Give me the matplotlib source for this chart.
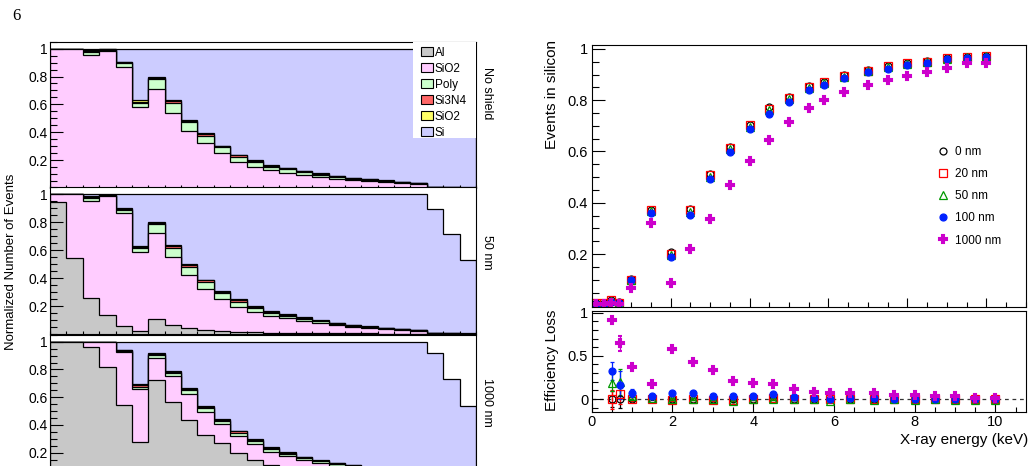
import numpy as np
import matplotlib.pyplot as plt
from matplotlib.patches import Patch, Rectangle
from matplotlib.ticker import MultipleLocator

plt.rcParams['font.family'] = ['Liberation Sans', 'DejaVu Sans']
plt.rcParams['axes.linewidth'] = 0.8

W, H = 1035, 466


def fx(px):
    return px / W


def fy(py):
    return 1 - py / H


# --------------------------------------------------------------------
# Left: fraction of events absorbed per layer, 26 energy bins
# --------------------------------------------------------------------
n_bins = 26
layer_names = ['Al', 'SiO2', 'Poly', 'Si3N4', 'SiO2', 'Si']
layer_colors = ['#c8c8c8', '#ffccff', '#ccffcc', '#ff6666', '#ffff66', '#ccccff']

# No shield
ns_al = [0.0] * 26
ns_sio2 = [1.000, 1.000, 0.953, 0.982, 0.870, 0.583, 0.714, 0.536, 0.411, 0.320, 0.249, 0.189, 0.153,
           0.128, 0.110, 0.092, 0.078, 0.066, 0.056, 0.048, 0.040, 0.034, 0.028, 0.006, 0.003, 0.002]
ns_poly = [0.000, 0.000, 0.024, 0.010, 0.024, 0.024, 0.066, 0.076, 0.060, 0.053, 0.042, 0.036, 0.032,
           0.025, 0.023, 0.020, 0.017, 0.014, 0.012, 0.010, 0.009, 0.008, 0.007, 0.002, 0.001, 0.001]
ns_si3n4 = [0.000, 0.000, 0.007, 0.003, 0.007, 0.012, 0.010, 0.011, 0.011, 0.011, 0.008, 0.009, 0.009,
            0.008, 0.008, 0.007, 0.006, 0.005, 0.004, 0.004, 0.003, 0.002, 0.002, 0.001, 0.001, 0.000]
ns_oxide = [0.000, 0.000, 0.005, 0.002, 0.004, 0.009, 0.007, 0.007, 0.008, 0.008, 0.005, 0.006, 0.006,
            0.006, 0.005, 0.005, 0.004, 0.004, 0.003, 0.002, 0.002, 0.002, 0.001, 0.001, 0.000, 0.001]
ns_si = [0.000, 0.000, 0.011, 0.003, 0.095, 0.372, 0.203, 0.370, 0.510, 0.608, 0.696, 0.760, 0.800,
         0.833, 0.854, 0.876, 0.895, 0.911, 0.925, 0.936, 0.946, 0.954, 0.962, 0.890, 0.710, 0.525]

# 50 nm Al
t50_al = [0.945, 0.545, 0.255, 0.136, 0.060, 0.024, 0.105, 0.064, 0.045, 0.029, 0.021, 0.014, 0.012,
          0.010, 0.008, 0.007, 0.006, 0.005, 0.004, 0.004, 0.003, 0.003, 0.002, 0.001, 0.001, 0.001]
t50_sio2 = [0.055, 0.455, 0.697, 0.849, 0.809, 0.564, 0.619, 0.484, 0.375, 0.290, 0.229, 0.181, 0.146,
            0.120, 0.104, 0.088, 0.072, 0.057, 0.048, 0.039, 0.032, 0.027, 0.023, 0.005, 0.002, 0.001]
t50_poly = [0.000, 0.000, 0.024, 0.008, 0.021, 0.024, 0.066, 0.069, 0.060, 0.055, 0.045, 0.036, 0.030,
            0.022, 0.020, 0.015, 0.012, 0.010, 0.008, 0.007, 0.006, 0.005, 0.004, 0.002, 0.001, 0.001]
t50_si3n4 = [0.000, 0.000, 0.008, 0.002, 0.006, 0.011, 0.006, 0.011, 0.012, 0.010, 0.007, 0.010, 0.007,
             0.007, 0.005, 0.006, 0.004, 0.004, 0.003, 0.002, 0.002, 0.002, 0.002, 0.001, 0.001, 0.000]
t50_oxide = [0.000, 0.000, 0.006, 0.002, 0.004, 0.007, 0.004, 0.008, 0.008, 0.006, 0.005, 0.006, 0.005,
             0.004, 0.003, 0.004, 0.003, 0.002, 0.002, 0.002, 0.002, 0.001, 0.001, 0.001, 0.000, 0.001]
t50_si = [0.000, 0.000, 0.010, 0.003, 0.100, 0.370, 0.200, 0.364, 0.500, 0.610, 0.693, 0.753, 0.800,
          0.837, 0.860, 0.880, 0.903, 0.922, 0.935, 0.946, 0.955, 0.962, 0.968, 0.888, 0.714, 0.525]

# 1000 nm Al
t1k_al = [1.000, 1.000, 0.962, 0.815, 0.545, 0.280, 0.721, 0.569, 0.437, 0.328, 0.268, 0.200, 0.150,
          0.110, 0.085, 0.068, 0.055, 0.045, 0.037, 0.030, 0.025, 0.020, 0.017, 0.004, 0.002, 0.001]
t1k_sio2 = [0.000, 0.000, 0.038, 0.185, 0.378, 0.378, 0.161, 0.181, 0.188, 0.169, 0.140, 0.121, 0.112,
            0.098, 0.090, 0.080, 0.070, 0.063, 0.058, 0.050, 0.043, 0.038, 0.033, 0.008, 0.004, 0.003]
t1k_poly = [0.000, 0.000, 0.000, 0.000, 0.012, 0.019, 0.024, 0.028, 0.030, 0.029, 0.024, 0.024, 0.023,
            0.020, 0.018, 0.015, 0.014, 0.012, 0.011, 0.010, 0.008, 0.007, 0.006, 0.002, 0.001, 0.001]
t1k_si3n4 = [0.000, 0.000, 0.000, 0.000, 0.004, 0.010, 0.007, 0.007, 0.008, 0.007, 0.007, 0.009, 0.008,
             0.007, 0.006, 0.005, 0.005, 0.005, 0.004, 0.004, 0.003, 0.003, 0.002, 0.001, 0.001, 0.000]
t1k_oxide = [0.000, 0.000, 0.000, 0.000, 0.003, 0.007, 0.005, 0.005, 0.005, 0.005, 0.005, 0.006, 0.005,
             0.005, 0.004, 0.004, 0.003, 0.003, 0.003, 0.002, 0.002, 0.002, 0.002, 0.001, 0.000, 0.001]
t1k_si = [0.000, 0.000, 0.000, 0.000, 0.058, 0.306, 0.082, 0.210, 0.332, 0.462, 0.556, 0.640, 0.702,
          0.760, 0.797, 0.828, 0.853, 0.872, 0.887, 0.904, 0.919, 0.930, 0.940, 0.902, 0.722, 0.532]

panel_tags = ['No shield', '50 nm', '1000 nm']

# --------------------------------------------------------------------
# Right: events in silicon / efficiency loss vs energy
# --------------------------------------------------------------------
energy = [0.1, 0.3, 0.5, 0.7, 1.0, 1.5, 2.0, 2.5, 3.0, 3.5, 4.0, 4.5,
          5.0, 5.5, 5.9, 6.4, 7.0, 7.5, 8.0, 8.5, 9.0, 9.5, 10.0]
thick_labels = ['0 nm', '20 nm', '50 nm', '100 nm', '1000 nm']

eff_0 = [0.010, 0.008, 0.022, 0.012, 0.102, 0.372, 0.207, 0.375, 0.514, 0.617, 0.705, 0.772,
         0.813, 0.855, 0.872, 0.897, 0.917, 0.935, 0.945, 0.952, 0.964, 0.969, 0.973]
eff_20 = [0.010, 0.008, 0.021, 0.011, 0.101, 0.370, 0.200, 0.373, 0.510, 0.614, 0.702, 0.766,
          0.810, 0.852, 0.869, 0.894, 0.915, 0.933, 0.943, 0.950, 0.963, 0.969, 0.972]
eff_50 = [0.006, 0.005, 0.017, 0.009, 0.100, 0.368, 0.198, 0.366, 0.500, 0.608, 0.696, 0.760,
          0.805, 0.846, 0.865, 0.890, 0.913, 0.928, 0.940, 0.948, 0.961, 0.967, 0.971]
eff_100 = [0.006, 0.005, 0.014, 0.008, 0.099, 0.361, 0.187, 0.352, 0.491, 0.597, 0.686, 0.746,
           0.794, 0.839, 0.859, 0.885, 0.908, 0.923, 0.937, 0.946, 0.959, 0.965, 0.970]
eff_1000 = [0.004, 0.004, 0.008, 0.005, 0.068, 0.320, 0.086, 0.218, 0.336, 0.468, 0.562, 0.644,
            0.716, 0.768, 0.800, 0.833, 0.861, 0.878, 0.895, 0.911, 0.926, 0.943, 0.943]

# efficiency loss starts at 0.5 keV
loss_0 = [0.000, 0.000, 0.000, 0.000, 0.000, 0.000, 0.000, 0.000, 0.000, 0.000, 0.000,
          0.000, 0.000, 0.000, 0.000, 0.000, 0.000, 0.000, 0.000, 0.000, 0.000]
loss_20 = [0.000, 0.060, 0.000, 0.005, -0.010, 0.000, -0.010, -0.010, 0.000, 0.010, 0.000,
           0.000, 0.000, 0.000, 0.000, 0.000, -0.005, 0.000, 0.000, -0.005, 0.000]
loss_50 = [0.190, 0.200, 0.030, 0.010, 0.000, 0.000, 0.000, -0.025, 0.000, 0.000, 0.000,
           0.000, -0.020, -0.005, -0.010, -0.005, -0.010, -0.005, -0.010, -0.015, -0.010]
loss_100 = [0.324, 0.162, 0.066, 0.040, 0.066, 0.070, 0.040, 0.030, 0.040, 0.060, 0.020,
            0.012, 0.005, 0.015, 0.008, 0.005, 0.005, 0.005, 0.005, 0.002, 0.005]
loss_1000 = [0.915, 0.645, 0.375, 0.174, 0.576, 0.432, 0.336, 0.209, 0.190, 0.170, 0.112,
             0.085, 0.066, 0.073, 0.066, 0.046, 0.046, 0.035, 0.030, 0.015, 0.015]

err_0 = [0.09, 0.10, 0.02, 0.01, 0.01, 0.01, 0.01, 0.01, 0.01, 0.01, 0.01,
         0.01, 0.01, 0.01, 0.01, 0.01, 0.01, 0.01, 0.01, 0.01, 0.01]
err_20 = [0.11, 0.12, 0.02, 0.01, 0.01, 0.01, 0.01, 0.01, 0.01, 0.01, 0.01,
          0.01, 0.01, 0.01, 0.01, 0.01, 0.01, 0.01, 0.01, 0.01, 0.01]
err_50 = [0.10, 0.15, 0.03, 0.01, 0.01, 0.01, 0.01, 0.01, 0.01, 0.01, 0.01,
          0.01, 0.01, 0.01, 0.01, 0.01, 0.01, 0.01, 0.01, 0.01, 0.01]
err_100 = [0.10, 0.16, 0.045, 0.02, 0.02, 0.015, 0.015, 0.015, 0.015, 0.015, 0.01,
           0.01, 0.01, 0.01, 0.01, 0.01, 0.01, 0.01, 0.01, 0.01, 0.01]
err_1000 = [0.02, 0.09, 0.03, 0.02, 0.02, 0.02, 0.02, 0.02, 0.02, 0.02, 0.015,
            0.015, 0.015, 0.015, 0.015, 0.015, 0.015, 0.015, 0.015, 0.015, 0.015]

# marker, colour, filled, size, edge width
styles = [('o', 'black', False, 5.0, 0.9),
          ('s', '#ff0000', False, 5.6, 0.9),
          ('^', '#009900', False, 5.8, 0.9),
          ('o', '#0022ff', True, 5.0, 0.9),
          ('P', '#cc00cc', True, 6.2, 1.5)]

# --------------------------------------------------------------------
fig = plt.figure(figsize=(W / 100, H / 100), dpi=100)

left_x, left_w = fx(50), (476 - 50) / W
panel_px = [(41.7, 188.0), (187.3, 334.0), (334.8, 480.5)]  # top, bottom in pixels
panel_layers = [
    [ns_al, ns_sio2, ns_poly, ns_si3n4, ns_oxide, ns_si],
    [t50_al, t50_sio2, t50_poly, t50_si3n4, t50_oxide, t50_si],
    [t1k_al, t1k_sio2, t1k_poly, t1k_si3n4, t1k_oxide, t1k_si],
]
tag_y = [93, 252, 402]

edges = np.arange(n_bins + 1)
left_axes = []
for (top_px, bot_px), layers, tag, ty in zip(panel_px, panel_layers, panel_tags, tag_y):
    ax = fig.add_axes([left_x, fy(bot_px), left_w, (bot_px - top_px) / H])
    cum = np.zeros(n_bins)
    tops = []
    for vals in layers:
        cum = cum + np.array(vals)
        tops.append(cum.copy())
    # stacked like a THStack: draw the total first, then each partial sum on top
    for top, col in reversed(list(zip(tops, layer_colors))):
        ax.stairs(top, edges, baseline=0, fill=True, facecolor=col,
                  edgecolor='black', linewidth=0.9)
    ax.set_xlim(0, n_bins)
    ax.set_ylim(0, 1.05)
    ax.set_xticks(edges)
    ax.set_xticklabels([])
    ax.set_yticks([0.2, 0.4, 0.6, 0.8, 1.0])
    ax.set_yticklabels(['0.2', '0.4', '0.6', '0.8', '1'])
    ax.yaxis.set_minor_locator(MultipleLocator(0.05))
    ax.tick_params(which='both', direction='in', top=False, right=False)
    ax.tick_params(axis='y', which='major', length=9, width=0.8, pad=1.5, labelsize=10)
    ax.tick_params(axis='y', which='minor', length=5, width=0.8)
    ax.tick_params(axis='x', which='major', length=2.5, width=0.8)
    fig.text(fx(487), fy(ty), tag, rotation=-90, ha='center', va='center', fontsize=9)
    left_axes.append(ax)

# legend of the top panel on a white box
ax0 = left_axes[0]
ax0.add_patch(Rectangle((0.8514, 0.342), 0.1486, 0.658, transform=ax0.transAxes,
                        facecolor='white', edgecolor='none', zorder=4))
handles = [Patch(facecolor=c, edgecolor='black', linewidth=0.8) for c in layer_colors]
ax0.legend(handles, layer_names, loc='upper left', bbox_to_anchor=(fx(421), fy(46.5)),
           bbox_transform=fig.transFigure, frameon=False, fontsize=8.5,
           handlelength=1.0, handleheight=0.8, handletextpad=0.15,
           labelspacing=0.34, borderpad=0, borderaxespad=0)

fig.text(fx(11), fy(262), 'Normalized Number of Events', rotation=90,
         ha='center', va='center', fontsize=9.5)
fig.text(fx(16), fy(16), '6', family='Liberation Serif', fontsize=12,
         ha='center', va='center')

# --------------------------------------------------------------------
# Right top: events in silicon
# --------------------------------------------------------------------
ax_t = fig.add_axes([fx(591.7), fy(306.7), (1025.7 - 591.7) / W, (306.7 - 45) / H])
eff_series = [eff_0, eff_20, eff_50, eff_100, eff_1000]
for vals, (m, c, filled, ms, mew), lab in zip(eff_series, styles, thick_labels):
    ax_t.plot(energy, vals, linestyle='none', marker=m, markersize=ms,
              markerfacecolor=c if filled else 'none', markeredgecolor=c,
              markeredgewidth=mew, label=lab)
ax_t.set_xlim(0, 11)
ax_t.set_ylim(-0.005, 1.015)
ax_t.xaxis.set_major_locator(MultipleLocator(2))
ax_t.xaxis.set_minor_locator(MultipleLocator(0.5))
ax_t.set_xticklabels([])
ax_t.set_yticks([0.2, 0.4, 0.6, 0.8, 1.0])
ax_t.set_yticklabels(['0.2', '0.4', '0.6', '0.8', '1'])
ax_t.yaxis.set_minor_locator(MultipleLocator(0.05))
ax_t.tick_params(which='both', direction='in', top=False, right=False)
ax_t.tick_params(axis='y', which='major', length=9, width=0.8, pad=2.5, labelsize=10.5)
ax_t.tick_params(axis='y', which='minor', length=5, width=0.8)
ax_t.tick_params(axis='x', which='major', length=6.5, width=0.8)
ax_t.tick_params(axis='x', which='minor', length=3.3, width=0.8)
ax_t.legend(loc='upper left', bbox_to_anchor=(fx(938), fy(146)),
            bbox_transform=fig.transFigure, frameon=False, fontsize=8.5,
            handlelength=0.8, handletextpad=0.6, labelspacing=0.86,
            borderpad=0, borderaxespad=0)

# --------------------------------------------------------------------
# Right bottom: efficiency loss
# --------------------------------------------------------------------
ax_b = fig.add_axes([fx(591.7), fy(411.7), (1025.7 - 591.7) / W, (411.7 - 311) / H])
loss_series = [loss_0, loss_20, loss_50, loss_100, loss_1000]
err_series = [err_0, err_20, err_50, err_100, err_1000]
ax_b.axhline(0, color='#333333', linestyle=(0, (3, 3)), linewidth=0.9, zorder=1)
for vals, errs, (m, c, filled, ms, mew) in zip(loss_series, err_series, styles):
    ax_b.errorbar(energy[2:], vals, yerr=errs, linestyle='none', marker=m, markersize=ms,
                  markerfacecolor=c if filled else 'none', markeredgecolor=c,
                  markeredgewidth=mew, ecolor=c, elinewidth=0.9, capsize=1.2, zorder=2)
ax_b.set_xlim(0, 10.75)
ax_b.set_ylim(-0.147, 1.02)
ax_b.xaxis.set_minor_locator(MultipleLocator(0.5))
ax_b.set_xticks([0, 2, 4, 6, 8, 10])
ax_b.set_xticklabels(['0', '2', '4', '6', '8', '10'])
ax_b.set_yticks([0, 0.5, 1.0])
ax_b.set_yticklabels(['0', '0.5', '1'])
ax_b.yaxis.set_minor_locator(MultipleLocator(0.1))
ax_b.tick_params(which='both', direction='in', top=False, right=False)
ax_b.tick_params(axis='y', which='major', length=8, width=0.8, pad=2.5, labelsize=10.5)
ax_b.tick_params(axis='y', which='minor', length=4, width=0.8)
ax_b.tick_params(axis='x', which='major', length=6.5, width=0.8, pad=2.5, labelsize=10.5)
ax_b.tick_params(axis='x', which='minor', length=3.3, width=0.8)

fig.text(fx(552), fy(40), 'Events in silicon', rotation=90, ha='center', va='top', fontsize=11)
fig.text(fx(552), fy(310), 'Efficiency Loss', rotation=90, ha='center', va='top', fontsize=11)
fig.text(fx(1028), fy(440), 'X-ray energy (keV)', ha='right', va='center', fontsize=11)

fig.savefig('out.png', dpi=100)
